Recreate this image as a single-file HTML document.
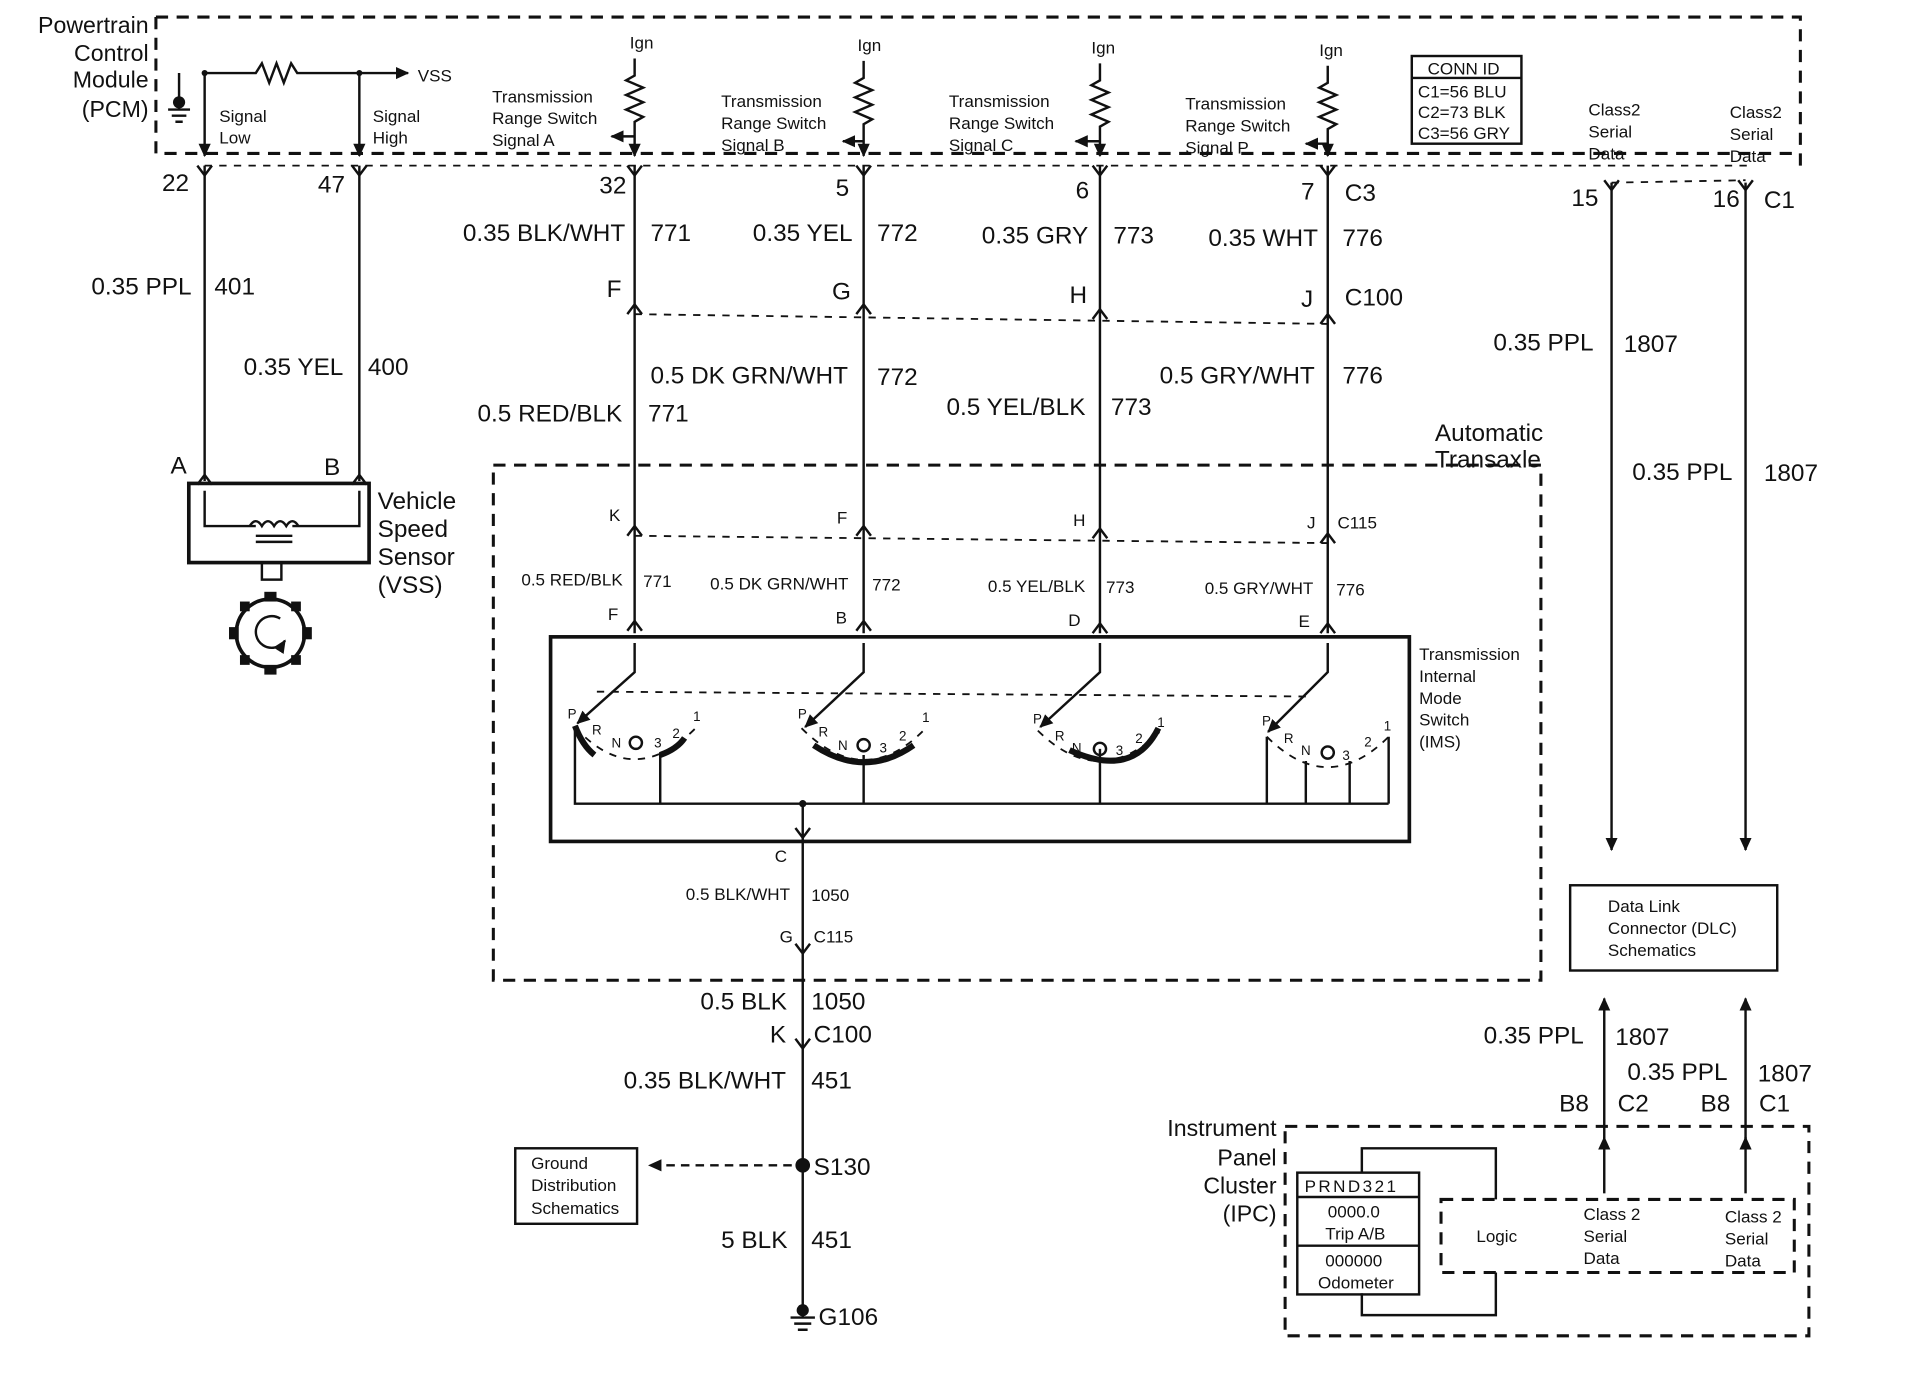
<!DOCTYPE html>
<html><head><meta charset="utf-8"><style>
html,body{margin:0;padding:0;background:#fff;}
svg{display:block;}
text{font-family:"Liberation Sans",sans-serif;fill:#111;}
.s{font-size:14px}.m{font-size:19px}.l{font-size:20px}
.w{stroke:#111;stroke-width:2;fill:none}
.d{stroke:#111;stroke-width:2.5;fill:none;stroke-dasharray:10,7}
.dt{stroke:#111;stroke-width:1.5;fill:none;stroke-dasharray:6,6}
.b{stroke:#111;stroke-width:3;fill:none}
</style></head><body>
<svg width="1910" height="1376" viewBox="0 0 1568 1130" preserveAspectRatio="none" xmlns="http://www.w3.org/2000/svg">
<defs><marker id="a" markerUnits="userSpaceOnUse" markerWidth="12" markerHeight="12" refX="10" refY="6" orient="auto"><path d="M0,1 L11,6 L0,11 z" fill="#111"/></marker></defs>
<!-- PCM box -->
<path class="d" d="M128,14 H1478 V138 M128,14 V126 H1478"/>
<path class="dt" d="M168,136 H1440"/>
<g class="m" text-anchor="end"><text x="122" y="27">Powertrain</text><text x="122" y="50">Control</text><text x="122" y="72">Module</text><text x="122" y="96">(PCM)</text></g>
<path class="w" d="M168,60 H210 l5,-8 l6,16 l6,-16 l6,16 l6,-16 l5,8 H335" marker-end="url(#a)"/>
<text class="s" x="343" y="67">VSS</text>
<path class="w" d="M147,60 V90 M138,90 H156 M141,95 H153 M144,100 H150"/>
<circle cx="147" cy="84" r="5" fill="#111"/>
<path class="w" d="M168,60 V128" marker-end="url(#a)"/><path class="w" d="M295,60 V128" marker-end="url(#a)"/>
<circle cx="168" cy="60" r="2.5" fill="#111"/><circle cx="295" cy="60" r="2.5" fill="#111"/>
<g class="s"><text x="180" y="100">Signal</text><text x="180" y="118">Low</text><text x="306" y="100">Signal</text><text x="306" y="118">High</text></g>
<g class="s">
<text x="517" y="40">Ign</text><text x="704" y="42">Ign</text><text x="896" y="44">Ign</text><text x="1083" y="46">Ign</text>
<text x="404" y="84">Transmission</text><text x="404" y="102">Range Switch</text><text x="404" y="120">Signal A</text>
<text x="592" y="88">Transmission</text><text x="592" y="106">Range Switch</text><text x="592" y="124">Signal B</text>
<text x="779" y="88">Transmission</text><text x="779" y="106">Range  Switch</text><text x="779" y="124">Signal C</text>
<text x="973" y="90">Transmission</text><text x="973" y="108">Range Switch</text><text x="973" y="126">Signal P</text>
</g>
<g class="w">
<path d="M521,48 V62 l-7,4 l14,6 l-14,6 l14,6 l-14,6 l14,6 l-7,4 V128" marker-end="url(#a)"/>
<path d="M709,50 V64 l-7,4 l14,6 l-14,6 l14,6 l-14,6 l14,6 l-7,4 V128" marker-end="url(#a)"/>
<path d="M903,52 V66 l-7,4 l14,6 l-14,6 l14,6 l-14,6 l14,6 l-7,4 V128" marker-end="url(#a)"/>
<path d="M1090,54 V68 l-7,4 l14,6 l-14,6 l14,6 l-14,6 l14,6 l-7,4 V128" marker-end="url(#a)"/>
<path d="M521,112 H502" marker-end="url(#a)"/><path d="M709,116 H692" marker-end="url(#a)"/><path d="M903,116 H883" marker-end="url(#a)"/><path d="M1090,118 H1072" marker-end="url(#a)"/>
</g>
<rect x="1159" y="46" width="90" height="72" class="w"/><path class="w" d="M1159,64 H1249"/>
<g class="s"><text x="1172" y="61">CONN ID</text><text x="1164" y="80">C1=56 BLU</text><text x="1164" y="97">C2=73 BLK</text><text x="1164" y="114">C3=56 GRY</text>
<text x="1304" y="95">Class2</text><text x="1304" y="113">Serial</text><text x="1304" y="131">Data</text>
<text x="1420" y="97">Class2</text><text x="1420" y="115">Serial</text><text x="1420" y="133">Data</text></g>
<g class="w">
<path d="M168,136 V395"/><path d="M295,136 V395"/>
<path d="M521,136 V520"/><path d="M709,136 V520"/><path d="M903,136 V520"/><path d="M1090,136 V520"/>
<path d="M1323,150 V698" marker-end="url(#a)"/><path d="M1433,150 V698" marker-end="url(#a)"/>
<path d="M659,690 V1080"/>
<path d="M1317,935 V820" marker-end="url(#a)"/><path d="M1433,935 V820" marker-end="url(#a)"/>
<path d="M1317,980 V934" marker-end="url(#a)"/><path d="M1433,980 V934" marker-end="url(#a)"/>
</g>
<path class="dt" d="M521,258 L1090,266"/><path class="dt" d="M521,440 L1090,446"/><path class="dt" d="M1323,150 L1433,148"/>
<g class="l">
<text x="133" y="157">22</text><text x="261" y="158">47</text><text x="492" y="159">32</text><text x="686" y="161">5</text><text x="883" y="163">6</text><text x="1068" y="164">7</text><text x="1104" y="165">C3</text>
<text x="1290" y="169">15</text><text x="1406" y="170">16</text><text x="1448" y="171">C1</text>
<text x="75" y="242">0.35 PPL</text><text x="176" y="242">401</text>
<text x="200" y="308">0.35 YEL</text><text x="302" y="308">400</text>
<text x="380" y="198">0.35 BLK/WHT</text><text x="534" y="198">771</text>
<text x="618" y="198">0.35 YEL</text><text x="720" y="198">772</text>
<text x="806" y="200">0.35 GRY</text><text x="914" y="200">773</text>
<text x="992" y="202">0.35 WHT</text><text x="1102" y="202">776</text>
<text x="498" y="244">F</text><text x="683" y="246">G</text><text x="878" y="249">H</text><text x="1068" y="252">J</text><text x="1104" y="251">C100</text>
<text x="1226" y="288">0.35 PPL</text><text x="1333" y="289">1807</text>
<text x="534" y="315">0.5 DK GRN/WHT</text><text x="720" y="316">772</text>
<text x="952" y="315">0.5 GRY/WHT</text><text x="1102" y="315">776</text>
<text x="392" y="346">0.5 RED/BLK</text><text x="532" y="346">771</text>
<text x="777" y="341">0.5 YEL/BLK</text><text x="912" y="341">773</text>
<text x="1340" y="394">0.35 PPL</text><text x="1448" y="395">1807</text>
<text x="1178" y="362">Automatic</text><text x="1178" y="384">Transaxle</text>
<text x="140" y="389">A</text><text x="266" y="390">B</text>
<text x="310" y="418">Vehicle</text><text x="310" y="441">Speed</text><text x="310" y="464">Sensor</text><text x="310" y="487">(VSS)</text>
<text x="575" y="829">0.5 BLK</text><text x="666" y="829">1050</text>
<text x="632" y="856">K</text><text x="668" y="856">C100</text>
<text x="512" y="894">0.35 BLK/WHT</text><text x="666" y="894">451</text>
<text x="668" y="965">S130</text>
<text x="592" y="1025">5 BLK</text><text x="666" y="1025">451</text>
<text x="672" y="1088">G106</text>
<text x="1218" y="857">0.35 PPL</text><text x="1326" y="858">1807</text>
<text x="1336" y="887">0.35 PPL</text><text x="1443" y="888">1807</text>
<text x="1280" y="913">B8</text><text x="1328" y="913">C2</text><text x="1396" y="913">B8</text><text x="1444" y="913">C1</text>
</g>
<g class="m" text-anchor="end"><text x="1048" y="933">Instrument</text><text x="1048" y="957">Panel</text><text x="1048" y="980">Cluster</text><text x="1048" y="1003">(IPC)</text></g>
<path class="d" d="M405,382 H1265 V805 H405 Z"/>
<g class="s">
<text x="500" y="428">K</text><text x="687" y="430">F</text><text x="881" y="432">H</text><text x="1073" y="434">J</text><text x="1098" y="434">C115</text>
<text x="428" y="481">0.5 RED/BLK</text><text x="528" y="482">771</text>
<text x="583" y="484">0.5 DK GRN/WHT</text><text x="716" y="485">772</text>
<text x="811" y="486">0.5 YEL/BLK</text><text x="908" y="487">773</text>
<text x="989" y="488">0.5 GRY/WHT</text><text x="1097" y="489">776</text>
<text x="499" y="509">F</text><text x="686" y="512">B</text><text x="877" y="514">D</text><text x="1066" y="515">E</text>
<text x="1165" y="542">Transmission</text><text x="1165" y="560">Internal</text><text x="1165" y="578">Mode</text><text x="1165" y="596">Switch</text><text x="1165" y="614">(IMS)</text>
<text x="636" y="708">C</text><text x="563" y="739">0.5 BLK/WHT</text><text x="666" y="740">1050</text>
<text x="640" y="774">G</text><text x="668" y="774">C115</text>
</g>
<g class="w">
<path d="M162,398 l6,-8 l6,8 M289,398 l6,-8 l6,8"/>
<path d="M162,136 l6,8 l6,-8 M289,136 l6,8 l6,-8 M515,136 l6,8 l6,-8 M703,136 l6,8 l6,-8 M897,136 l6,8 l6,-8 M1084,136 l6,8 l6,-8 M1317,148 l6,8 l6,-8 M1427,148 l6,8 l6,-8"/>
<path d="M515,258 l6,-8 l6,8 M703,258 l6,-8 l6,8 M897,262 l6,-8 l6,8 M1084,266 l6,-8 l6,8"/>
<path d="M515,440 l6,-8 l6,8 M703,440 l6,-8 l6,8 M897,442 l6,-8 l6,8 M1084,446 l6,-8 l6,8"/>
<path d="M515,518 l6,-8 l6,8 M703,518 l6,-8 l6,8 M897,520 l6,-8 l6,8 M1084,520 l6,-8 l6,8"/>
<path d="M653,680 l6,8 l6,-8 M653,775 l6,8 l6,-8 M653,853 l6,8 l6,-8"/>
</g>
<rect x="155" y="397" width="148" height="65" class="b"/>
<path class="w" d="M168,403 V432 H210 M240,432 H295 V403"/>
<path class="w" d="M205,432 q5,-8 10,0 q5,-8 10,0 q5,-8 10,0 q5,-8 10,0 M210,440 H240 M210,445 H240"/>
<rect x="215" y="462" width="16" height="14" class="w"/>
<circle cx="222" cy="520" r="28" class="b"/><path class="w" d="M230,508 A13,13 0 1 0 234,526" marker-end="url(#a)"/>
<g fill="#111"><rect x="217" y="486" width="10" height="8"/><rect x="217" y="546" width="10" height="8"/><rect x="188" y="515" width="8" height="10"/><rect x="248" y="515" width="8" height="10"/><rect x="197" y="494" width="8" height="8"/><rect x="239" y="494" width="8" height="8"/><rect x="197" y="538" width="8" height="8"/><rect x="239" y="538" width="8" height="8"/></g>
<rect x="452" y="523" width="705" height="168" class="b"/>
<path class="dt" d="M490,568 L1075,572"/>
<g class="w">
<path d="M521,528 V552 L474,594" marker-end="url(#a)"/>
<path d="M709,528 V552 L661,597" marker-end="url(#a)"/>
<path d="M903,528 V552 L854,597" marker-end="url(#a)"/>
<path d="M1090,528 V552 L1041,601" marker-end="url(#a)"/>
<path d="M472,600 V660 H1140 M542,618 V660 M659,660 V690 M709,620 V660 M903,615 V660 M1040,605 V660 M1072,625 V660 M1108,625 V660 M1140,605 V660"/>
</g>
<g class="dt"><path d="M472,597 Q520,650 572,597"/><path d="M658,598 Q710,650 760,598"/><path d="M852,600 Q903,650 953,600"/><path d="M1040,605 Q1090,655 1140,605"/></g>
<g stroke="#111" stroke-width="5" fill="none"><path d="M472,596 Q478,612 488,620"/><path d="M542,620 Q556,615 562,606"/><path d="M668,612 Q710,640 750,612"/><path d="M878,616 Q930,640 951,598"/></g>
<g font-size="11"><text x="466" y="590">P</text><text x="486" y="603">R</text><text x="502" y="614">N</text><text x="537" y="614">3</text><text x="552" y="606">2</text><text x="569" y="592">1</text>
<text x="655" y="590">P</text><text x="672" y="605">R</text><text x="688" y="616">N</text><text x="722" y="618">3</text><text x="738" y="608">2</text><text x="757" y="593">1</text>
<text x="848" y="594">P</text><text x="866" y="608">R</text><text x="880" y="618">N</text><text x="916" y="620">3</text><text x="932" y="610">2</text><text x="950" y="597">1</text>
<text x="1036" y="596">P</text><text x="1054" y="610">R</text><text x="1068" y="620">N</text><text x="1102" y="624">3</text><text x="1120" y="613">2</text><text x="1136" y="600">1</text></g>
<g class="w"><circle cx="522" cy="610" r="5"/><circle cx="709" cy="612" r="5"/><circle cx="903" cy="615" r="5"/><circle cx="1090" cy="618" r="5"/></g>
<circle cx="659" cy="660" r="3" fill="#111"/>
<rect x="1289" y="727" width="170" height="70" class="w"/>
<g class="s"><text x="1320" y="749">Data Link</text><text x="1320" y="767">Connector (DLC)</text><text x="1320" y="785">Schematics</text></g>
<rect x="423" y="943" width="100" height="62" class="w"/>
<g class="s"><text x="436" y="960">Ground</text><text x="436" y="978">Distribution</text><text x="436" y="997">Schematics</text></g>
<path d="M650,957 H533" stroke="#111" stroke-width="2" stroke-dasharray="7,5" marker-end="url(#a)"/>
<circle cx="659" cy="957" r="6" fill="#111"/>
<g class="w"><path d="M659,1072 V1082 M649,1082 H669 M652,1087 H666 M655,1092 H663"/></g>
<circle cx="659" cy="1076" r="5" fill="#111"/>
<path class="d" d="M1055,925 H1485 V1097 H1055 Z"/>
<path class="d" d="M1183,985 H1473 V1045 H1183 Z"/>
<path class="w" d="M1118,963 V943 H1228 V985 M1118,1062 V1080 H1228 V1045"/>
<rect x="1065" y="963" width="100" height="100" class="w"/>
<path class="w" d="M1065,983 H1165 M1065,1023 H1165"/>
<g class="s"><text x="1071" y="979" letter-spacing="2">PRND321</text><text x="1090" y="1000">0000.0</text><text x="1088" y="1018">Trip A/B</text><text x="1088" y="1040">000000</text><text x="1082" y="1058">Odometer</text>
<text x="1212" y="1020">Logic</text>
<text x="1300" y="1002">Class 2</text><text x="1300" y="1020">Serial</text><text x="1300" y="1038">Data</text>
<text x="1416" y="1004">Class 2</text><text x="1416" y="1022">Serial</text><text x="1416" y="1040">Data</text></g>
</svg>
</body></html>
